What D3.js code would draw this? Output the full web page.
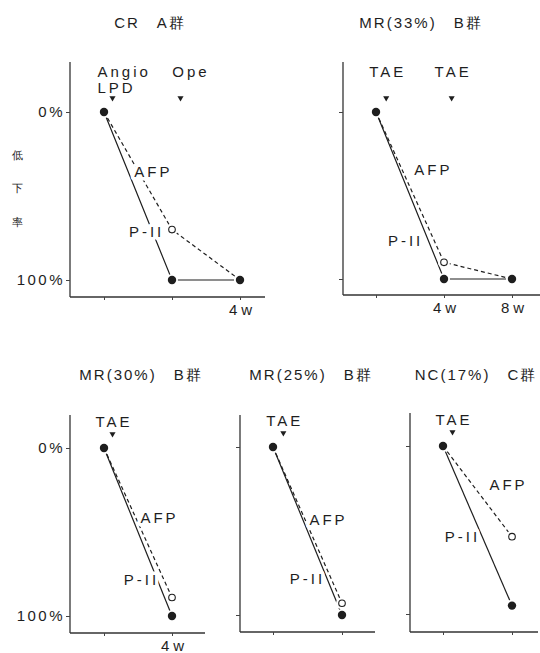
<!DOCTYPE html>
<html><head><meta charset="utf-8">
<script src="https://cdn.jsdelivr.net/npm/d3@7"></script>
<style>
body{margin:0;background:#fff}
text{font-family:"Liberation Sans",Arial,sans-serif;fill:#1e1e1e}
</style>
</head><body>
<svg id="chart" width="540" height="653"></svg>
<script>
// ---- data ----
const panelTitles = ["CR\u3000A群", "MR(33%)\u3000B群", "MR(30%)\u3000B群", "MR(25%)\u3000B群", "NC(17%)\u3000C群"];
const weeks = [[0, 2, 4], [0, 4, 8], [0, 4], [0, 4], [0, 4]];
const xTickLabels = [["", "", "4w"], ["", "4w", "8w"], ["", "4w"], ["", ""], ["", ""]];
const yTickValues = [0, 100];
const yTickLabels = [["0%", "100%"], ["", ""], ["0%", "100%"], ["", ""], ["", ""]];
const piiValues = [[0, 100, 100], [0, 100, 100], [0, 100], [0, 100], [0, 95]];
const afpValues = [[0, 70, 100], [0, 90, 100], [0, 89], [0, 93], [0, 54]];
const eventNames = [["Angio\nLPD", "Ope"], ["TAE", "TAE"], ["TAE"], ["TAE"], ["TAE"]];
const eventWeeks = [[0.25, 2.25], [0.6, 4.45], [0.5], [0.6], [0.55]];
const seriesNames = ["AFP", "P-II"];
const afpLabelAt = [[1.41, 35.7], [3.29, 34.7], [3.18, 41.7], [3.13, 43.5], [3.71, 23.2]];
const piiLabelAt = [[1.21, 71.4], [1.65, 77.2], [2.12, 78.6], [1.91, 78.6], [1.04, 54.2]];
const yAxisTitle = ["低", "下", "率"];
const yAxisTitleAt = [25.6, 45.2, 65.5];

// ---- layout ----
const layout = [
  {left: 70,  right: 265, top: 62,  bottom: 297, x0: 104, x1: 240, y0: 112, y100: 280, titleX: 150, titleY: 28, evDy: -35, evDx: [0, 9]},
  {left: 343, right: 540, top: 62,  bottom: 295, x0: 376, x1: 512, y0: 112, y100: 279, titleX: 421, titleY: 28, evDy: -35, evDx: [0, 0]},
  {left: 70,  right: 205, top: 415, bottom: 633, x0: 104, x1: 172, y0: 448, y100: 616, titleX: 141, titleY: 380, evDy: -21, evDx: [0]},
  {left: 240, right: 375, top: 415, bottom: 632, x0: 273, x1: 342, y0: 447, y100: 615, titleX: 311, titleY: 380, evDy: -21, evDx: [0]},
  {left: 410, right: 538, top: 413, bottom: 632, x0: 443, x1: 512, y0: 446, y100: 614, titleX: 476, titleY: 380, evDy: -21, evDx: [0]}
];

const ink = "#1e1e1e";
const LS = 3; // letter spacing for labels
const svg = d3.select("#chart");

panelTitles.forEach((title, i) => {
  const L = layout[i];
  const wk = weeks[i];
  const x = d3.scaleLinear().domain([0, d3.max(wk)]).range([L.x0, L.x1]);
  const y = d3.scaleLinear().domain([0, 100]).range([L.y0, L.y100]);
  const g = svg.append("g");

  // title
  g.append("text").attr("x", L.titleX).attr("y", L.titleY)
    .attr("text-anchor", "middle").attr("font-size", 15).attr("letter-spacing", 2)
    .text(title);

  // axis lines
  g.append("line").attr("x1", L.left).attr("x2", L.left).attr("y1", L.top).attr("y2", L.bottom)
    .attr("stroke", "#333").attr("stroke-width", 1.3);
  g.append("line").attr("x1", L.left).attr("x2", L.right).attr("y1", L.bottom).attr("y2", L.bottom)
    .attr("stroke", "#333").attr("stroke-width", 1.3);

  // y axis ticks
  const yAxis = d3.axisLeft(y).tickValues(yTickValues).tickSize(4).tickPadding(1)
    .tickFormat((d, k) => yTickLabels[i][k]);
  const ya = g.append("g").attr("transform", `translate(${L.left},0)`).call(yAxis);
  ya.select(".domain").remove();
  ya.selectAll("line").attr("stroke", "#444");
  ya.selectAll("text").attr("font-size", 15).attr("letter-spacing", 2.5)
    .attr("font-family", "'Liberation Sans',Arial,sans-serif").attr("fill", ink);

  // x axis ticks
  const xAxis = d3.axisBottom(x).tickValues(wk).tickSize(3).tickPadding(4)
    .tickFormat((d, k) => xTickLabels[i][k]);
  const xa = g.append("g").attr("transform", `translate(0,${L.bottom})`).call(xAxis);
  xa.select(".domain").remove();
  xa.selectAll("line").attr("stroke", "#444");
  xa.selectAll("text").attr("font-size", 15).attr("letter-spacing", 4).attr("dx", 2)
    .attr("font-family", "'Liberation Sans',Arial,sans-serif").attr("fill", ink);

  // y axis title (first panel only)
  if (i === 0) {
    yAxisTitle.forEach((ch, k) => {
      g.append("text").attr("x", 17).attr("y", y(yAxisTitleAt[k])).attr("dy", "0.35em")
        .attr("text-anchor", "middle").attr("font-size", 10.5)
        .attr("font-family", "'Noto Sans CJK JP',sans-serif").text(ch);
    });
  }

  const pii = wk.map((w, k) => ({w, v: piiValues[i][k]}));
  const afp = wk.map((w, k) => ({w, v: afpValues[i][k]}));
  const line = d3.line().x(d => x(d.w)).y(d => y(d.v));

  g.append("path").attr("d", line(afp)).attr("fill", "none").attr("stroke", ink)
    .attr("stroke-width", 1.2).attr("stroke-dasharray", "4,3");
  g.append("path").attr("d", line(pii)).attr("fill", "none").attr("stroke", ink)
    .attr("stroke-width", 1.2);

  // white halos around points (small gaps where lines meet dots)
  const allPts = pii.concat(afp);
  g.selectAll(".halo").data(allPts).join("circle")
    .attr("cx", d => x(d.w)).attr("cy", d => y(d.v)).attr("r", 6).attr("fill", "#fff");

  // AFP open points (only where they do not coincide with P-II)
  afp.forEach((d, k) => {
    const same = pii[k].v === d.v;
    if (!same) {
      g.append("circle").attr("cx", x(d.w)).attr("cy", y(d.v)).attr("r", 3.3)
        .attr("fill", "#fff").attr("stroke", ink).attr("stroke-width", 1.1);
    }
  });
  g.selectAll(".pt").data(pii).join("circle")
    .attr("cx", d => x(d.w)).attr("cy", d => y(d.v)).attr("r", 4.2).attr("fill", ink);

  // series labels with white halo (break the lines)
  const labs = [[seriesNames[0], afpLabelAt[i]], [seriesNames[1], piiLabelAt[i]]];
  labs.forEach(([name, at]) => {
    g.append("text").attr("x", x(at[0]) + LS / 2).attr("y", y(at[1])).attr("dy", "0.36em")
      .attr("text-anchor", "middle").attr("font-size", 15).attr("letter-spacing", LS)
      .attr("stroke", "#fff").attr("stroke-width", 7).attr("paint-order", "stroke")
      .attr("stroke-linejoin", "round")
      .text(name);
  });

  // event markers
  eventWeeks[i].forEach((ew, k) => {
    const ex = x(ew), ey = y(0) - 14;
    g.append("path").attr("d", d3.symbol(d3.symbolTriangle, 16)())
      .attr("transform", `translate(${ex},${ey}) rotate(180)`).attr("fill", ink);
    const parts = eventNames[i][k].split("\n");
    const dx = L.evDx[k];
    if (parts.length > 1) {
      parts.forEach((p, j) => {
        g.append("text").attr("x", ex - 15).attr("y", y(0) + L.evDy + j * 16)
          .attr("font-size", 15).attr("letter-spacing", LS).text(p);
      });
    } else {
      g.append("text").attr("x", ex + dx + LS / 2).attr("y", y(0) + L.evDy)
        .attr("text-anchor", "middle").attr("font-size", 15).attr("letter-spacing", LS).text(parts[0]);
    }
  });
});
</script>
</body></html>
